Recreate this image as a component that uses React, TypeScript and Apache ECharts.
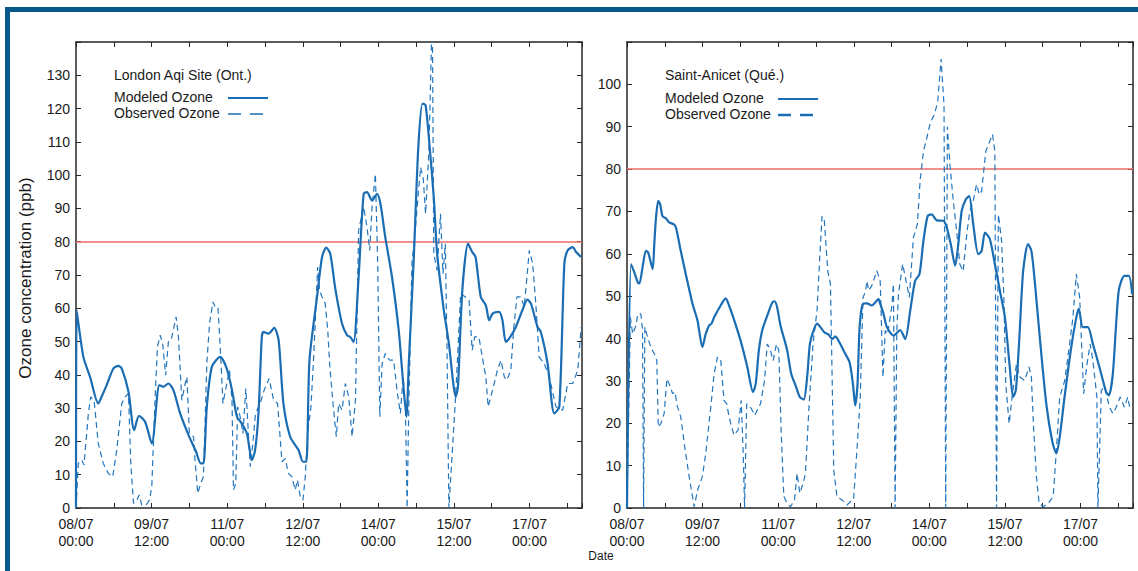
import React, { useEffect, useRef } from "react";
import * as echarts from "echarts";

// hours since 08/07 00:00 -> tick label
const tickLabels = ["08/07\n00:00", "09/07\n12:00", "11/07\n00:00", "12/07\n12:00", "14/07\n00:00", "15/07\n12:00", "17/07\n00:00"];
const siteNames = ["London Aqi Site (Ont.)", "Saint-Anicet (Qué.)"];
const legendNames = ["Modeled Ozone", "Observed Ozone"];
const threshold = 80;

const londonModeled = [[0,0],[0.3,59.4],[3.5,45.4],[6.7,39.4],[10.6,31.4],[12.2,33.4],[14.6,36.9],[17.8,41.9],[20.2,42.7],[21.8,41.9],[25,34.9],[27.7,23.4],[30,27.7],[32.9,25.9],[36.1,19.4],[39.7,36.9],[41.6,36.4],[44,37.4],[46.4,35.4],[49.6,28.4],[53.6,21.9],[57.2,16.9],[59.4,13.4],[60.7,13.4],[62.3,30.4],[64.7,42.4],[68.7,45.4],[71.8,41.9],[74.3,35.4],[76.7,27.4],[79,25.4],[81.4,22.4],[83.8,14.4],[85.3,17.4],[86.9,28.4],[88.5,51.4],[89.3,52.9],[91.7,52.4],[94.4,54.1],[96.5,50.4],[98.8,31.4],[102,21.4],[106,17.4],[108.1,13.9],[109.7,13.9],[111.2,44.4],[114.8,63.4],[117.2,75.4],[119.2,78.2],[121.1,76.4],[123.5,65.9],[126.7,55.4],[129.1,51.9],[130.6,51.4],[132.2,49.9],[134.6,69.4],[137,94.4],[138.6,94.9],[141,92.4],[143.4,94.4],[145,91.4],[147.3,81.4],[150.5,69.4],[153.7,53.4],[156.1,35.4],[157.4,27.4],[158.5,43.4],[160.9,75.4],[163,108],[165,121.5],[166.5,121],[168.5,108],[170.4,93.4],[172,76.4],[175.2,59.4],[177.6,49.4],[179.7,37.4],[180.8,33.4],[181.9,36.4],[184,65.4],[186.7,79.4],[188.7,76.9],[190.3,75.4],[192.8,63.4],[195.2,60.9],[196.8,56.4],[198.4,58.4],[201.5,58.9],[203.1,56.4],[204.7,49.9],[206.3,50.9],[209.5,54.4],[212.6,59.4],[215,62.6],[216.7,61.4],[219.8,54.4],[221.4,52.9],[224.6,43.4],[227.8,28.4],[230.2,30.4],[232.6,73.4],[234.2,77.4],[236.6,78.4],[238.2,76.9],[240.6,75.4]];

const londonObserved = [[0,0],[1.1,13.4],[2.7,14.4],[3.8,12.9],[5.9,28.4],[7,33.4],[8.6,32.4],[10.6,19.4],[13,13.4],[15.4,10.4],[17.5,9.4],[19.4,17.4],[21.8,31.4],[23.4,33.4],[25,34.4],[26.1,13.4],[27.4,1.4],[29,2.4],[30.1,3.9],[31.3,0.9],[33.4,0.9],[35,2.4],[36.1,6.4],[37.7,33.4],[38.8,48.4],[40.1,51.9],[41.3,49.4],[42.7,39.9],[44,49.9],[45.3,50.4],[47.7,57.4],[48.8,51.4],[50.4,32.4],[52,37.4],[52.8,39.4],[54,22.4],[56,21.4],[56.7,14.4],[58,4.4],[59.4,7.4],[60.7,9.4],[62.3,43.4],[63.6,55.4],[65.2,61.9],[66.3,60.4],[67.6,60.4],[68.7,48.4],[70,31.4],[71.5,36.4],[73.1,41.4],[74.3,32.4],[75,5.4],[76.1,7.4],[77,30.4],[78.2,27.4],[79.5,22.4],[80.9,35.9],[82.2,21.4],[83,12.4],[84.2,19.4],[85.5,28.4],[87.7,31.4],[89.6,35.4],[92,38.9],[94.1,32.4],[96,31.4],[98.1,13.9],[99.6,14.9],[101.2,10.4],[102.8,9.4],[104.4,5.4],[105.5,8.4],[106.8,3.4],[108.1,2.4],[109.2,9.4],[110.3,22.4],[111.9,30.4],[113.2,45.4],[115.1,72.4],[116,65.4],[117.2,63.4],[118.7,61.4],[119.9,53.4],[120.8,43.4],[122.4,31.4],[124,21.4],[125.1,31.4],[126.7,29.4],[128.3,37.4],[129.9,33.4],[131.5,21.4],[133.1,32.4],[134.6,83.4],[137,90.4],[138.6,84.4],[139.9,77.4],[141,90.4],[142.6,100.4],[143.7,73.4],[144.7,27.4],[145.8,43.4],[147.3,46.4],[149.4,44.4],[151.3,44.4],[152.9,35.4],[154.5,28.4],[155.8,39.4],[156.9,30.4],[157.7,0],[158.5,30],[160,73.4],[161.7,84.4],[164.1,102.4],[165.4,99],[166.5,88.4],[168.1,107.4],[169.7,150],[170.4,76.4],[172,71.4],[173.6,88.4],[174.8,70.4],[175.9,79.4],[176.7,48.4],[177.6,0],[180.8,33.4],[183.2,64.4],[185.5,63.4],[187.2,62.4],[188.7,47.4],[189.9,51.4],[191.9,51.4],[193.5,45.4],[195.2,39.4],[196.3,30.4],[198.4,35.4],[200.7,41.4],[202.4,44.4],[204,39.4],[205.2,38.4],[207.1,41.4],[208.4,53.4],[210,63.4],[211.9,63.4],[213.5,60.4],[215.9,77.4],[217.5,73.4],[219,61.4],[220.6,45.4],[223,43.4],[225.4,39.4],[228.6,30.4],[231.8,29.4],[234.2,37.4],[236.6,37.4],[239,41.4],[240.6,54.4]];

const anicetModeled = [[0,0],[1.9,57.6],[3.5,55.6],[5.1,53.3],[5.9,53],[7.4,56.8],[9,60.7],[10.1,60.3],[12.2,56.4],[13,62.3],[13.8,68.5],[14.9,72.5],[15.8,71.7],[16.9,68.9],[18.5,68.4],[20.1,67.4],[22.2,67],[23.3,66.2],[25.6,60.7],[28,55.2],[31.2,48.2],[33.6,44.2],[35.9,38],[37.5,41.1],[39.1,43.1],[40.2,43.5],[41.5,45],[44.6,47.8],[47,49.5],[48.6,47.8],[50.9,44.6],[54.1,39.5],[57.3,33.3],[60,27.4],[61.3,29.3],[62.8,37.2],[64.4,41.9],[66.8,45.4],[69.2,48.5],[70.3,48.8],[71.5,47.4],[73.1,43.1],[76.3,37.2],[78.2,31.7],[80.3,28.9],[82.3,26.2],[84.2,25.6],[85.8,30.9],[87.1,38.7],[88.6,41.5],[90.5,43.5],[92.1,42.7],[94,41.5],[96.1,40.9],[97.7,39.9],[99.2,40.5],[101.6,38.7],[103.5,36.8],[106,34.4],[107.6,29.3],[108.7,24.2],[109.8,29.3],[110.8,42.7],[112.4,48.2],[114.3,48.3],[116.6,47.8],[118.2,48.5],[119.8,49.3],[120.6,48.2],[122.2,45.8],[123.8,42.7],[126.9,40.7],[130.1,42],[132.5,39.9],[134.9,46.6],[137.2,53.6],[139.3,55.2],[141.2,63.1],[143.2,68.9],[145.1,69.3],[147.5,67.9],[150.7,67.8],[152.3,66.2],[154.2,62.3],[156.3,57.2],[157.8,62.3],[159.4,70.1],[161.4,72.9],[163,73.6],[164.9,67],[167.3,59.9],[168.9,60.7],[170.5,65],[172.8,63.5],[175.2,57.6],[177.6,51.3],[180,45],[182.3,33.3],[183.9,26.2],[185.2,27.8],[186.8,39.5],[188.7,56],[191,62.3],[192.6,60.7],[194.2,53.6],[196.6,40.3],[199.7,24.6],[202.6,15.6],[204.5,12.9],[206.1,16.8],[208.4,26.2],[211.6,38],[214,45],[215.2,47],[217.1,42.7],[219.5,42.7],[221.9,38.7],[225,33.3],[228.2,27.4],[229.5,26.6],[231.4,31.7],[234.2,51.3],[236.9,54.8],[239,54.8],[240.6,50.5]];

const anicetObserved = [[0,0],[1.6,45],[2.7,41.1],[4.3,43.1],[5.1,45.8],[6.6,45.8],[7.4,41.9],[7.9,0],[8.5,42.7],[9.8,40.3],[11.4,37.9],[13,36.4],[14.2,34.8],[14.9,19.1],[16.1,19.9],[17.7,22.3],[19,30.5],[20.1,29.3],[21.7,27],[22.8,27.4],[24.1,23.8],[25.6,21.5],[27.5,14.4],[29.6,7.4],[31.2,2.7],[32,0.3],[33.6,4.2],[35.9,7.4],[37.5,12.9],[39.9,23.8],[41.5,31.7],[43.1,35.6],[44.6,35.2],[46.2,25.4],[47.5,24.6],[48.6,21.5],[50.9,17.2],[52.9,18.4],[54.4,25.4],[55.4,12.1],[56,0],[57,24.6],[59.2,23.5],[60.8,21.9],[63.6,24.6],[65.5,30.1],[66.8,38.7],[68.1,37.6],[69.6,34.8],[71.2,38.7],[72.3,37.2],[73.4,18.4],[74.7,2.7],[76.3,1.1],[77.9,0.3],[79.8,1.9],[81,8.2],[82.3,3.5],[83.9,5.8],[85,8.2],[86.6,23.1],[88.6,38.7],[90.5,46.6],[91.8,59.1],[92.9,68.9],[94,67.8],[95.6,56],[96.9,52.9],[98.5,8.9],[100,2.7],[102.4,1.9],[104.8,0.7],[106.4,1.5],[107.9,1.9],[109.5,13.6],[111.1,26.2],[112.4,49.7],[113.5,50.9],[114.3,53.6],[115.1,51.3],[116.6,52.5],[119,56],[120.6,53.6],[121.9,30.9],[123,41.9],[124.1,41.1],[126.1,47.4],[126.9,52.9],[127.7,0],[128.5,41.9],[129.3,50.5],[131.3,57.6],[132.9,53.6],[134.5,49.7],[136.4,63.8],[138.3,67],[139.6,77.2],[141.2,84.2],[142.8,87.4],[144.5,91],[146.5,93],[148,96],[149.6,106],[151,95],[151.8,0],[152.6,90],[153.8,81.1],[155.4,72.5],[157,65.4],[158.5,57.6],[160.1,55.9],[162,65.4],[163.3,70.1],[164.9,72.5],[166.5,76.4],[167.8,74],[168.9,74.8],[170.9,84.2],[172.8,86.6],[174.1,88.2],[175.2,84.2],[176,0],[176.9,69.3],[178.4,63.1],[179.5,49.7],[180.4,29.3],[182,19.9],[183.6,27],[185.5,34],[187.1,30.9],[189.4,30.1],[191.5,33.3],[192.6,30.9],[193.7,18.4],[195,7.4],[196.3,1.1],[198.2,0.3],[200.6,1.1],[203,2.7],[204.5,13.6],[206.1,26.2],[208.5,30.1],[210.8,38.7],[212.4,45],[214,55.2],[215.6,49.7],[217.5,27],[219.1,34],[220.6,38.7],[221.9,34.8],[223.8,26.2],[224.3,0],[225.9,27.8],[227.4,28.6],[229.8,23.8],[231.4,22.3],[233,23.8],[234.9,26.2],[236.9,23.8],[238.5,26.2],[239.4,23.8]];

const FONT = "'Liberation Sans', Arial, Helvetica, sans-serif";
const BLUE = "#1a6db3";
const AXIS = "#262626";
const TEXT = "#1a1a1a";

export default function App() {
  const ref = useRef<HTMLDivElement>(null);
  useEffect(() => {
    if (!ref.current) return;
    const chart = echarts.init(ref.current, null, { renderer: "svg" });
    const grids = [
      { left: 76, top: 42, width: 506, height: 466 },
      { left: 627, top: 42, width: 506, height: 466 },
    ];
    const yMax = [140, 110];
    const xAxis: any[] = [];
    const yAxis: any[] = [];
    grids.forEach((_, g) => {
      const lineCfg = { show: true, onZero: false, lineStyle: { color: AXIS, width: 1.5 } };
      const tickCfg = { show: true, inside: true, length: 5, lineStyle: { color: AXIS, width: 1 } };
      xAxis.push({
        type: "value", gridIndex: g, min: 0, max: 241, interval: 18, position: "bottom",
        axisLine: lineCfg, axisTick: tickCfg, splitLine: { show: false },
        axisLabel: {
          show: true, interval: 0, margin: 7, fontSize: 14, lineHeight: 17, color: TEXT, fontFamily: FONT,
          formatter: (v: number) => (v % 36 === 0 && tickLabels[v / 36] ? tickLabels[v / 36] : ""),
        },
      });
      xAxis.push({
        type: "value", gridIndex: g, min: 0, max: 241, interval: 18, position: "top",
        axisLine: lineCfg, axisTick: tickCfg, splitLine: { show: false }, axisLabel: { show: false },
      });
      yAxis.push({
        type: "value", gridIndex: g, min: 0, max: yMax[g], interval: 10, position: "left",
        axisLine: lineCfg, axisTick: tickCfg, splitLine: { show: false },
        axisLabel: {
          show: true, margin: 6, fontSize: 14, color: TEXT, fontFamily: FONT,
          formatter: (v: number) => (v === yMax[g] ? "" : String(v)),
        },
      });
      yAxis.push({
        type: "value", gridIndex: g, min: 0, max: yMax[g], interval: 10, position: "right",
        axisLine: lineCfg, axisTick: tickCfg, splitLine: { show: false }, axisLabel: { show: false },
      });
    });

    const datasets = [
      [londonModeled, londonObserved],
      [anicetModeled, anicetObserved],
    ];
    const series: any[] = [];
    datasets.forEach((pair, g) => {
      series.push({
        type: "line", name: legendNames[0], xAxisIndex: g * 2, yAxisIndex: g * 2,
        data: pair[0], showSymbol: false, symbol: "none", smooth: 0.25, clip: true,
        lineStyle: { color: BLUE, width: 2.2 }, z: 3,
        markLine: {
          silent: true, symbol: ["none", "none"], label: { show: false },
          lineStyle: { color: "#ee6b64", width: 1.5, type: "solid" },
          data: [{ yAxis: threshold }], z: 1,
        },
      });
      series.push({
        type: "line", name: legendNames[1], xAxisIndex: g * 2, yAxisIndex: g * 2,
        data: pair[1], showSymbol: false, symbol: "none", clip: true,
        lineStyle: { color: "#2376bd", width: 1.2, type: [6, 4] }, z: 2,
      });
    });

    const legendPos = [
      { x: 114, tY: 75, mY: 97, oY: 113, lx: 228 },
      { x: 665, tY: 75, mY: 98, oY: 114, lx: 778 },
    ];
    const graphic: any[] = [
      { type: "rect", shape: { x: 5, y: 7, width: 1133, height: 5 }, style: { fill: "#07598c" } },
      { type: "rect", shape: { x: 5, y: 7, width: 5, height: 564 }, style: { fill: "#07598c" } },
      {
        type: "text", x: 25, y: 278, rotation: Math.PI / 2,
        style: { text: "Ozone concentration (ppb)", fontSize: 17, fontFamily: FONT, fill: TEXT, align: "center", verticalAlign: "middle" },
      },
      {
        type: "text", x: 601, y: 556,
        style: { text: "Date", fontSize: 12, fontFamily: FONT, fill: TEXT, align: "center", verticalAlign: "middle" },
      },
    ];
    legendPos.forEach((p, g) => {
      const ts = { fontSize: 14, fontFamily: FONT, fill: TEXT, align: "left", verticalAlign: "middle" };
      graphic.push({ type: "text", x: p.x, y: p.tY, style: { ...ts, text: siteNames[g] } });
      graphic.push({ type: "text", x: p.x, y: p.mY, style: { ...ts, text: legendNames[0] } });
      graphic.push({ type: "text", x: p.x, y: p.oY, style: { ...ts, text: legendNames[1] } });
      graphic.push({ type: "line", shape: { x1: p.lx, y1: p.mY + 1, x2: p.lx + 40, y2: p.mY + 1 }, style: { stroke: BLUE, lineWidth: 2.2 } });
      graphic.push({ type: "line", shape: { x1: p.lx, y1: p.oY + 1, x2: p.lx + 36, y2: p.oY + 1 }, style: { stroke: BLUE, lineWidth: g === 0 ? 1.6 : 2.4, lineDash: [13, 9] } });
    });

    chart.setOption({
      animation: false,
      backgroundColor: "#ffffff",
      grid: grids,
      xAxis, yAxis, series, graphic,
    });
    return () => chart.dispose();
  }, []);
  return <div ref={ref} style={{ position: "absolute", left: 0, top: 0, width: 1138, height: 571 }} />;
}
